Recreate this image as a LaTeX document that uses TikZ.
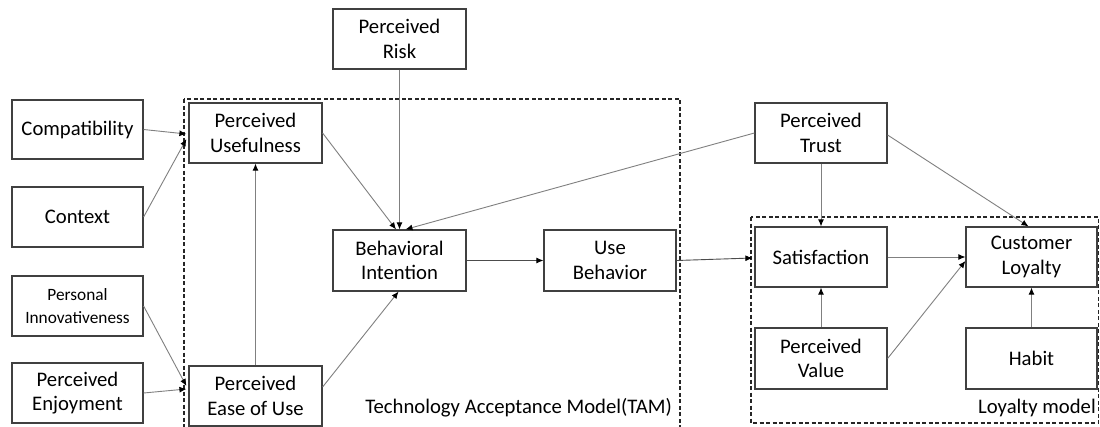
\documentclass[tikz,border=0pt]{standalone}
\usepackage{fontspec}
\setmainfont{Carlito}
\usetikzlibrary{arrows.meta,calc}
\begin{document}
\begin{tikzpicture}[x=1pt,y=-1pt,
  box/.style={draw=black!75,line width=1.2pt,fill=white,inner sep=0pt,align=center,
    minimum width=132pt,minimum height=60pt,font=\fontsize{20.7}{24.5}\selectfont},
  conn/.style={draw=black!50,line width=0.9pt,-{Latex[length=7pt,width=6pt,color=black]}},
  frame/.style={draw=black!85,line width=1.2pt,dash pattern=on 4pt off 2.5pt},
  lbl/.style={inner sep=0pt,font=\fontsize{20.7}{24.5}\selectfont}]
\clip (0,0) rectangle (1100,426);
\fill[white] (0,0) rectangle (1100,426);
% frames
\draw[frame] (184,99) rectangle (680,445);
\draw[frame] (751,217) rectangle (1098.5,423);
\node[lbl,anchor=east] (tamlbl) at (672,408) {Technology Acceptance Model(TAM)};
\node[lbl,anchor=east] (loylbl) at (1096,408) {Loyalty model};
% nodes
\node[box,minimum width=131pt,minimum height=59pt] (compat) at (77.5,129.5) {Compatibility};
\node[box,minimum width=131pt] (context) at (77.5,217) {Context};
\node[box,minimum width=131pt,font=\fontsize{17.3}{23}\selectfont] (pi) at (77.5,306) {Personal\\Innovativeness};
\node[box,minimum width=131pt] (pe) at (77.5,393) {Perceived\\Enjoyment};
\node[box,minimum width=133pt] (pu) at (255.5,133) {Perceived\\Usefulness};
\node[box,minimum width=133pt] (peou) at (255.5,396) {Perceived\\Ease of Use};
\node[box,minimum width=133pt] (pr) at (399.5,39) {Perceived\\Risk};
\node[box,minimum width=133pt,minimum height=61pt] (bi) at (399.5,260.5) {Behavioral\\Intention};
\node[box,minimum height=61pt] (ub) at (610,260.5) {Use\\Behavior};
\node[box] (pt) at (821,133) {Perceived\\Trust};
\node[box] (sat) at (821,257) {Satisfaction};
\node[box,minimum width=131pt] (cl) at (1031.5,257) {Customer\\Loyalty};
\node[box,minimum height=61pt] (pv) at (821,358.5) {Perceived\\Value};
\node[box,minimum width=131pt,minimum height=61pt] (habit) at (1031.5,358.5) {Habit};
% connectors
\draw[conn] (compat.east) -- ($(pu.west)+(-2,1)$);
\draw[conn] (context.east) -- ($(pu.west)+(-2,6)$);
\draw[conn] (pi.east) -- ($(peou.west)+(-2,-10)$);
\draw[conn] (pe.east) -- ($(peou.west)+(-2,-7)$);
\draw[conn] (peou.north) -- (pu.south);
\draw[conn] (pu.east) -- ($(bi.north)+(-3.5,0)$);
\draw[conn] (pr.south) -- (bi.north);
\draw[conn] (pt.west) -- ($(bi.north)+(6,0)$);
\draw[conn] ($(peou.east)+(0,-9)$) -- ($(bi.south)+(-1,0)$);
\draw[conn,draw=black!70] (bi.east) -- (ub.west);
\draw[conn,draw=black!70] (ub.east) -- ($(sat.west)+(-2,1)$);
\draw[conn] (pt.south) -- (sat.north);
\draw[conn] ($(pt.east)+(0,2)$) -- ($(cl.north)+(-3,0)$);
\draw[conn] (sat.east) -- (cl.west);
\draw[conn] (pv.east) -- ($(cl.west)+(0,4)$);
\draw[conn] (pv.north) -- (sat.south);
\draw[conn] (habit.north) -- (cl.south);
\end{tikzpicture}
\end{document}
